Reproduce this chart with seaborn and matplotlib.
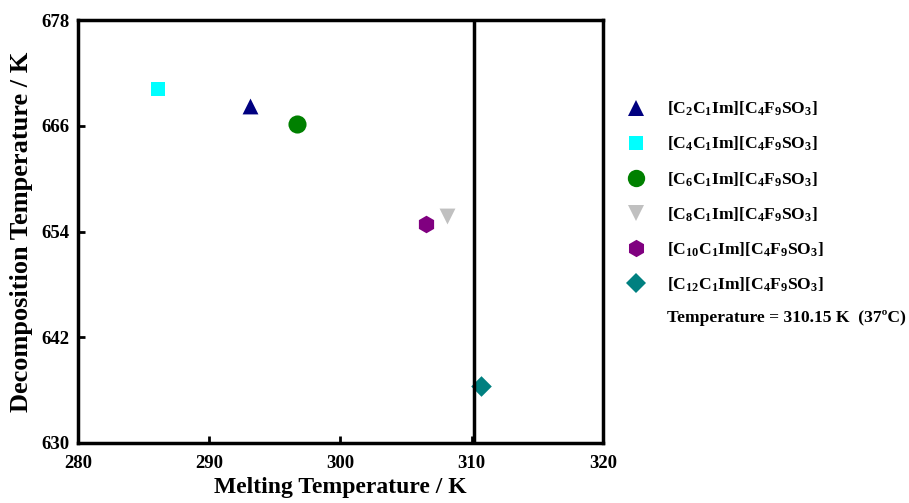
import matplotlib
matplotlib.use('Agg')
import matplotlib.pyplot as plt
import seaborn as sns
from matplotlib.lines import Line2D

# =========================
# DADOS
# =========================

liquidos = [
    r'[C$_2$C$_1$Im][C$_4$F$_9$SO$_3$]',
    r'[C$_4$C$_1$Im][C$_4$F$_9$SO$_3$]',
    r'[C$_6$C$_1$Im][C$_4$F$_9$SO$_3$]',
    r'[C$_8$C$_1$Im][C$_4$F$_9$SO$_3$]',
    r'[C$_{10}$C$_1$Im][C$_4$F$_9$SO$_3$]',
    r'[C$_{12}$C$_1$Im][C$_4$F$_9$SO$_3$]',
]
fusao = [293.1, 286.1, 296.7, 308.1, 306.5, 310.7]
decomposicao = [668.2, 670.2, 666.2, 655.8, 654.8, 636.5]
temp_corpo = 310.15

cores = ['#000080', '#00FFFF', '#008000', '#C0C0C0', '#800080', '#008080']
marcadores = ['^', 's', 'o', 'v', 'h', 'D']
tamanhos = [130, 100, 170, 130, 160, 110]

# =========================
# ESTILO
# =========================

sns.set_style('white')
plt.rcParams['font.family'] = ['Liberation Serif', 'DejaVu Serif']
plt.rcParams['font.weight'] = 'bold'
plt.rcParams['text.color'] = 'black'
plt.rcParams['axes.labelcolor'] = 'black'
plt.rcParams['xtick.color'] = 'black'
plt.rcParams['ytick.color'] = 'black'
plt.rcParams['mathtext.fontset'] = 'custom'
plt.rcParams['mathtext.rm'] = 'Liberation Serif:bold'
plt.rcParams['mathtext.it'] = 'Liberation Serif:bold'
plt.rcParams['mathtext.bf'] = 'Liberation Serif:bold'

fig = plt.figure(figsize=(9.09, 5.03), dpi=100)
ax = fig.add_axes([0.0858, 0.1193, 0.5775, 0.8409])

# =========================
# DISPERSÃO
# =========================

for nome, x, y, c, m, s in zip(liquidos, fusao, decomposicao, cores, marcadores, tamanhos):
    sns.scatterplot(x=[x], y=[y], color=c, marker=m, s=s, linewidth=0,
                    label=nome, ax=ax, legend=False)

ax.axvline(temp_corpo, color='black', lw=2.5)

ax.set_xlim(280, 320)
ax.set_ylim(630, 678)
ax.set_xticks([280, 290, 300, 310, 320])
ax.set_yticks([630, 642, 654, 666, 678])
ax.tick_params(direction='in', length=5, width=2, labelsize=13.5,
               bottom=True, left=True, top=False, right=False)
ax.tick_params(axis='x', pad=9)
ax.tick_params(axis='y', pad=6)
for sp in ax.spines.values():
    sp.set_linewidth(2.5)
    sp.set_color('black')

ax.set_xlabel('Melting Temperature / K', fontsize=17, fontweight='bold', labelpad=3)
ax.set_ylabel('Decomposition Temperature / K', fontsize=19, fontweight='bold', labelpad=6)

# =========================
# LEGENDA
# =========================

tam_legenda = [11, 10.5, 12.5, 11, 12.5, 10]
handles = [Line2D([], [], ls='none', marker=m, color=c, markersize=t, markeredgewidth=0)
           for m, c, t in zip(marcadores, cores, tam_legenda)]
handles.append(Line2D([], [], ls='none'))
rotulos = liquidos + ['Temperature = 310.15 K  (37ºC)']
fig.legend(handles, rotulos, loc='upper left', bbox_to_anchor=(0.678, 0.815),
           frameon=False, fontsize=12.6, labelspacing=0.95, handletextpad=1.0,
           handlelength=1.5, borderaxespad=0)

plt.savefig('out.png', dpi=100)
